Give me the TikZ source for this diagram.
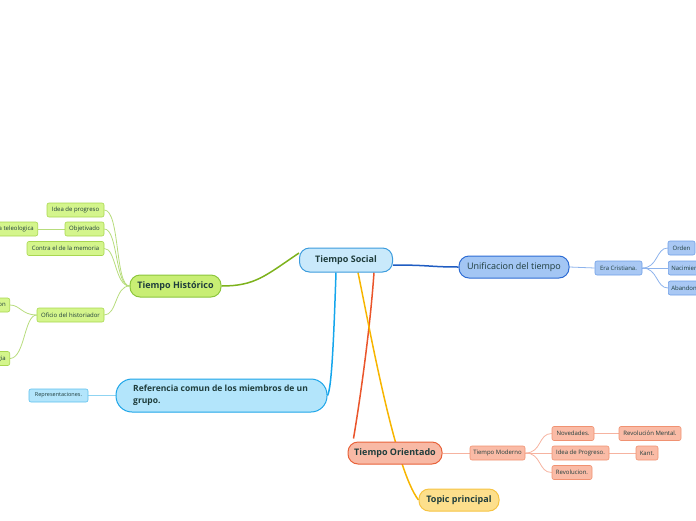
\documentclass[tikz,border=0pt]{standalone}
\usepackage{fontspec}
\setmainfont{Open Sans}
\usetikzlibrary{backgrounds}
\definecolor{txt}{HTML}{1F3D3C}
\definecolor{socfill}{HTML}{C9E9FB}
\definecolor{socdraw}{HTML}{3C9CDD}
\definecolor{unifill}{HTML}{A3C6F4}
\definecolor{unidraw}{HTML}{2D6CD4}
\definecolor{unilink}{HTML}{1F5CC2}
\definecolor{bsfill}{HTML}{A9C8F4}
\definecolor{bsdraw}{HTML}{6E9EE6}
\definecolor{bslink}{HTML}{8DB3EC}
\definecolor{hisfill}{HTML}{C8EE74}
\definecolor{hisdraw}{HTML}{8CC63C}
\definecolor{hislink}{HTML}{7DB21C}
\definecolor{gsfill}{HTML}{D4F58C}
\definecolor{gsdraw}{HTML}{A9D750}
\definecolor{gslink}{HTML}{B7DC7C}
\definecolor{reffill}{HTML}{B3E5FB}
\definecolor{refdraw}{HTML}{1DA5E8}
\definecolor{reflink}{HTML}{15A6EC}
\definecolor{cyfill}{HTML}{B3E5FB}
\definecolor{cydraw}{HTML}{5CC0EE}
\definecolor{cylink}{HTML}{8FD4F2}
\definecolor{orfill}{HTML}{F8B9A5}
\definecolor{ordraw}{HTML}{E8623A}
\definecolor{orlink}{HTML}{EA552B}
\definecolor{osfill}{HTML}{FABBA6}
\definecolor{osdraw}{HTML}{F09272}
\definecolor{oslink}{HTML}{F6B3A0}
\definecolor{topfill}{HTML}{FDDF8C}
\definecolor{topdraw}{HTML}{F6C443}
\definecolor{toplink}{HTML}{F7B500}
\tikzset{
  main/.style={rounded corners=10pt, line width=1pt, inner sep=0pt, text=txt,
    font=\fontsize{9}{11}\selectfont\bfseries, align=center},
  small/.style={rounded corners=2pt, line width=0.6pt, inner sep=0pt, text=txt,
    font=\fontsize{6}{7}\selectfont, minimum height=14pt, align=center},
  gsmall/.style={small, fill=gsfill, draw=gsdraw},
  bsmall/.style={small, fill=bsfill, draw=bsdraw},
  osmall/.style={small, fill=osfill, draw=osdraw},
  csmall/.style={small, fill=cyfill, draw=cydraw},
  sublink/.style={line width=0.8pt},
  mainlink/.style={line width=1.5pt},
}
\begin{document}
\begin{tikzpicture}[x=1pt,y=-1pt]
\useasboundingbox (0,0) rectangle (696,520);
\clip (0,0) rectangle (696,520);

% central
\node[main, fill=socfill, draw=socdraw, minimum width=93pt, minimum height=24pt] (soc) at (346,260) {Tiempo Social};

% Unificacion branch
\node[main, fill=unifill, draw=unidraw, minimum width=110pt, minimum height=22pt, font=\fontsize{9}{11}\selectfont] (uni) at (514,267) {Unificacion del tiempo};
\node[bsmall, minimum width=47pt] (era) at (618.5,268) {Era Cristiana.};
\node[bsmall, minimum width=27pt] (ord) at (681.5,248) {Orden};
\node[bsmall, anchor=west, minimum width=40pt, text width=38pt, align=left] (nac) at (668,268) {\hspace*{2pt}Nacimiento};
\node[bsmall, anchor=west, minimum width=40pt, text width=38pt, align=left] (aba) at (668,288) {\hspace*{2pt}Abandono};

% Historico branch
\node[main, fill=hisfill, draw=hisdraw, minimum width=91pt, minimum height=22pt] (his) at (175.5,286) {Tiempo Histórico};
\node[gsmall, minimum width=57pt] (idea) at (75.5,210) {Idea de progreso};
\node[gsmall, minimum width=39pt] (obj) at (84.5,229) {Objetivado};
\node[gsmall, anchor=east, inner xsep=4pt] (tel) at (38,229) {Historia teleologica};
\node[gsmall, minimum width=77pt] (con) at (65.5,248.5) {Contra el de la memoria};
\node[gsmall, minimum width=67pt] (ofi) at (70.5,315) {Oficio del historiador};
\node[gsmall, anchor=east, inner xsep=4pt] (int) at (10,305) {Interpretacion};
\node[gsmall, anchor=east, inner xsep=4pt] (met) at (10,358.5) {Metodologia};

% Referencia branch
\node[main, fill=reffill, draw=refdraw, minimum width=211pt, minimum height=33pt, rounded corners=16pt] (ref) at (221.5,395.5) {};
\node[anchor=west, text=txt, font=\fontsize{8.5}{12.5}\selectfont\bfseries, align=left, inner sep=0pt] (reft) at (133,395.5) {Referencia comun de los miembros de un\\grupo.};
\node[csmall, minimum width=59pt, minimum height=13pt, font=\fontsize{5.5}{7}\selectfont] (rep) at (58.5,395.5) {Representaciones.};

% Orientado branch
\node[main, fill=orfill, draw=ordraw, minimum width=94pt, minimum height=22pt] (ori) at (395,453) {Tiempo Orientado};
\node[osmall, minimum width=55pt] (mod) at (497.5,453) {Tiempo Moderno};
\node[osmall, minimum width=42pt] (nov) at (573,433.5) {Novedades.};
\node[osmall, minimum width=62pt] (rme) at (650,433.5) {Revolución Mental.};
\node[osmall, minimum width=57pt] (ipr) at (580.5,453) {Idea de Progreso.};
\node[osmall, minimum width=22pt] (kan) at (647,453) {Kant.};
\node[osmall, minimum width=40pt] (rev) at (572,472.5) {Revolucion.};

% Topic principal
\node[main, fill=topfill, draw=topdraw, minimum width=80pt, minimum height=22pt] (top) at (459,500) {Topic principal};

\begin{scope}[on background layer]
% ---- main connectors
\draw[mainlink, draw=unilink] (soc.east |- 0,265) .. controls (430,265) and (430,267) .. (uni.west);
\draw[mainlink, draw=hislink] ([yshift=7pt]soc.west) .. controls (265,276) and (255,286) .. (his.east);
\draw[mainlink, draw=reflink] ([xshift=-10pt]soc.south) .. controls (334,330) and (332,388) .. (ref.east);
\draw[mainlink, draw=orlink] ([xshift=28pt]soc.south) .. controls (370,330) and (360,400) .. ([xshift=6pt,yshift=3pt]ori.north west);
\draw[mainlink, draw=toplink] ([xshift=12pt]soc.south) .. controls (370,330) and (395,470) .. (top.west);

% ---- sub connectors
\draw[sublink, draw=bslink] (uni.east) -- (era.west);
\draw[sublink, draw=bslink] (era.east) .. controls (658,268) and (656,248) .. (ord.west);
\draw[sublink, draw=bslink] (era.east) -- (nac.west);
\draw[sublink, draw=bslink] (era.east) .. controls (658,268) and (656,288) .. (aba.west);

\draw[sublink, draw=gslink] (his.west) .. controls (115,286) and (120,210) .. (idea.east);
\draw[sublink, draw=gslink] (his.west) .. controls (115,286) and (118,229) .. (obj.east);
\draw[sublink, draw=gslink] (his.west) .. controls (115,286) and (116,248) .. (con.east);
\draw[sublink, draw=gslink] (his.west) .. controls (115,286) and (117,315) .. (ofi.east);
\draw[sublink, draw=gslink] (obj.west) -- (tel.east);
\draw[sublink, draw=gslink] (ofi.west) .. controls (22,315) and (20,305) .. (int.east);
\draw[sublink, draw=gslink] (ofi.west) .. controls (24,315) and (25,358) .. (met.east);

\draw[sublink, draw=cylink] (ref.west) -- (rep.east);

\draw[sublink, draw=oslink] (ori.east) -- (mod.west);
\draw[sublink, draw=oslink] (mod.east) .. controls (542,453) and (538,433.5) .. (nov.west);
\draw[sublink, draw=oslink] (mod.east) -- (ipr.west);
\draw[sublink, draw=oslink] (mod.east) .. controls (542,453) and (538,472.5) .. (rev.west);
\draw[sublink, draw=oslink] (nov.east) -- (rme.west);
\draw[sublink, draw=oslink] (ipr.east) -- (kan.west);
\end{scope}

\end{tikzpicture}
\end{document}
